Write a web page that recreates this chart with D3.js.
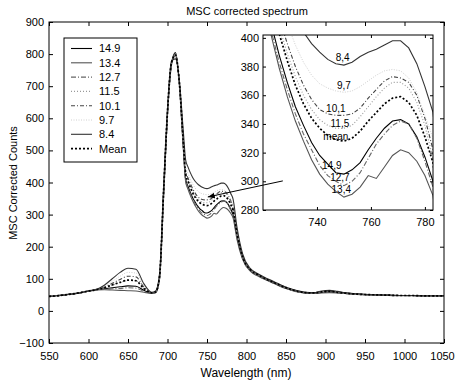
<!DOCTYPE html>
<html lang="en">
<head>
<meta charset="utf-8">
<title>MSC corrected spectrum</title>
<script src="https://cdn.jsdelivr.net/npm/d3@7"></script>
<style>
body { margin: 0; background: #fff; }
svg { display: block; font-family: "Liberation Sans", Arial, sans-serif; }
.axis text { font-size: 11px; fill: #000; }
.axis line { stroke: #000; }
</style>
</head>
<body>
<script>
var w = 455;
var h = 384;

// wavelength grid (nm), finer inside the inset window
var wavelength = [550,560,570,580,590,600,610,620,630,640,650,660,670,680,685,690,695,700,705,710,715,
                  720,723,726,729,732,735,738,741,744,747,750,753,756,759,762,765,768,771,774,777,780,783,
                  788,795,805,815,825,835,845,855,865,875,885,895,905,915,925,935,950,965,980,995,1010,1025,1040,1050];

var s149 = [46,48,50,53,57,62,66, 69,72,75,78,77,64,55, 58,105,360,615,770,805,712, 515,
            410,388,369,352,339,327,318,312,306,305,308,313,322,330,337,342,343,340,331,317,300,
            232,166,126,111,98,87,76,67,60,56,55,58,60,58,55,53,51,50,49,48,48,47,47,47];
var s134 = [45,47,50,53,56,61,65, 66,65,64,63,62,58,55, 57,100,350,610,765,800,705, 505,
            402,379,359,342,328,315,305,298,293,289,291,296,304,302,310,318,322,320,314,304,290,
            222,161,123,108,96,85,74,66,59,55,54,56,57,56,54,52,50,49,48,47,47,46,46,46];
var s127 = [45,48,50,53,57,61,66, 68,69,70,72,71,61,55, 57,102,355,612,768,803,708, 510,
            405,383,364,347,333,322,311,304,300,297,300,306,316,326,333,339,342,340,330,314,296,
            228,164,125,110,97,86,75,66,60,56,55,57,58,57,54,52,50,49,48,48,47,47,46,47];
var s115 = [46,48,50,54,57,62,67, 72,80,88,95,94,70,56, 59,110,370,620,772,798,710, 528,
            430,408,389,373,360,350,343,339,337,337,339,345,352,359,365,369,369,365,355,339,316,
            240,170,128,112,99,88,77,68,61,57,56,59,61,58,55,53,51,50,49,48,48,47,47,47];
var s101 = [45,47,50,53,57,62,67, 74,86,98,108,106,75,57, 60,112,375,625,775,795,712, 532,
            436,414,396,380,367,357,350,347,346,346,347,351,358,364,370,373,372,369,360,344,322,
            245,172,129,113,100,89,78,69,62,57,56,60,62,59,56,53,51,50,49,48,48,47,47,47];
var s97  = [46,48,51,54,58,62,67, 76,92,108,120,118,80,57, 60,115,380,628,776,790,714, 540,
            448,428,410,395,383,374,368,365,363,362,363,366,370,374,377,378,377,372,362,346,330,
            250,174,130,114,101,90,78,69,62,58,57,61,63,60,56,54,51,50,49,48,48,47,47,48];
var s84  = [45,47,50,53,57,62,67, 80,100,120,133,130,85,58, 62,118,385,632,778,785,718, 560,
            470,448,430,415,404,396,390,385,382,381,383,387,390,392,395,398,398,393,382,366,348,
            260,178,132,115,102,91,79,70,63,58,57,62,64,61,57,54,52,50,49,48,48,47,47,48];
var sMean = [45,47,50,53,57,62,66, 72,81,89,96,94,70,56, 59,109,368,620,772,797,711, 527,
             426,403,384,367,354,344,337,332,329,328,330,335,342,348,354,358,359,355,346,331,313,
             240,169,128,112,99,88,77,68,61,57,56,59,61,58,55,53,51,50,49,48,48,47,47,47];

var legendNames = ["14.9","13.4","12.7","11.5","10.1","9.7","8.4","Mean"];
var insetNames  = ["14,9","13,4","12,7","11,5","10,1","9,7","8,4","mean"];
var allSeries   = [s149, s134, s127, s115, s101, s97, s84, sMean];

var xTicks = [550,600,650,700,750,800,850,900,950,1000,1050];
var yTicks = [-100,0,100,200,300,400,500,600,700,800,900];
var insetXTicks = [740,760,780];
var insetYTicks = [280,300,320,340,360,380,400];

// label anchors inside the inset, in data units
var insetLabelWl  = [745.5, 749, 748.5, 748.5, 747, 750, 749.5, 747];
var insetLabelVal = [311, 294.5, 302.5, 340.5, 351, 367, 386, 331];

// line styles per series
var styles = [
  {stroke:"#000", dash:null,      width:1.1},
  {stroke:"#555", dash:null,      width:1.1},
  {stroke:"#666", dash:"5,2,1,2", width:1.1},
  {stroke:"#999", dash:"1,2",     width:1.1},
  {stroke:"#444", dash:"4,2,1,2", width:1.1},
  {stroke:"#d0d0d0", dash:"1,1.5", width:1},
  {stroke:"#333", dash:null,      width:1.1},
  {stroke:"#000", dash:"2,2",     width:1.7}
];

var svg = d3.select("body").append("svg")
            .attr("width", w)
            .attr("height", h);

// main axes
var x = d3.scaleLinear().domain([550,1050]).range([49,444]);
var y = d3.scaleLinear().domain([-100,900]).range([343,22]);

svg.append("clipPath").attr("id","mainclip")
   .append("rect").attr("x",49).attr("y",22).attr("width",395).attr("height",321);

var line = d3.line()
             .x(function(d){ return x(d[0]); })
             .y(function(d){ return y(d[1]); })
             .curve(d3.curveMonotoneX);

var mainG = svg.append("g").attr("clip-path","url(#mainclip)");
allSeries.forEach(function(s, i) {
  var pts = wavelength.map(function(wl, j){ return [wl, s[j]]; });
  mainG.append("path")
       .attr("d", line(pts))
       .attr("fill","none")
       .attr("stroke", styles[i].stroke)
       .attr("stroke-width", styles[i].width)
       .attr("stroke-dasharray", styles[i].dash);
});

svg.append("g").attr("class","axis")
   .attr("transform","translate(0,343)")
   .call(d3.axisBottom(x).tickValues(xTicks).tickSize(-4).tickPadding(9).tickFormat(d3.format("d")))
   .call(function(g){
     g.select(".domain").remove();
     g.selectAll("text").filter(function(d){ return d === 1050; }).attr("dx", -2);
   });
svg.append("g").attr("class","axis")
   .attr("transform","translate(0,22)")
   .call(d3.axisTop(x).tickValues(xTicks).tickSize(-4).tickFormat(""))
   .call(function(g){ g.select(".domain").remove(); });
svg.append("g").attr("class","axis")
   .attr("transform","translate(49,0)")
   .call(d3.axisLeft(y).tickValues(yTicks).tickSize(-4).tickPadding(5).tickFormat(d3.format("d")))
   .call(function(g){ g.select(".domain").remove(); });
svg.append("g").attr("class","axis")
   .attr("transform","translate(444,0)")
   .call(d3.axisRight(y).tickValues(yTicks).tickSize(-4).tickFormat(""))
   .call(function(g){ g.select(".domain").remove(); });

svg.append("rect")
   .attr("x",49).attr("y",22).attr("width",395).attr("height",321)
   .attr("fill","none").attr("stroke","#000").attr("stroke-width",1);

// titles
svg.append("text").attr("x",247).attr("y",15).attr("text-anchor","middle")
   .attr("font-size",11).text("MSC corrected spectrum");
svg.append("text").attr("x",246).attr("y",377).attr("text-anchor","middle")
   .attr("font-size",12).text("Wavelength (nm)");
svg.append("text").attr("transform","translate(17,183) rotate(-90)").attr("text-anchor","middle")
   .attr("font-size",11).text("MSC Corrected Counts");

// legend
var legend = svg.append("g");
legend.append("rect").attr("x",64).attr("y",38).attr("width",73).attr("height",124)
      .attr("fill","#fff").attr("stroke","#000");
legendNames.forEach(function(name, i) {
  var ly = 48.5 + i * 14.3;
  legend.append("line").attr("x1",71).attr("x2",92).attr("y1",ly).attr("y2",ly)
        .attr("stroke", styles[i].stroke)
        .attr("stroke-width", styles[i].width)
        .attr("stroke-dasharray", styles[i].dash);
  legend.append("text").attr("x",99).attr("y",ly).attr("dy","0.36em")
        .attr("font-size",11).text(name);
});

// inset
var ix = d3.scaleLinear().domain([720,783]).range([263,433]);
var iy = d3.scaleLinear().domain([280,402]).range([210,35]);

svg.append("rect").attr("x",263).attr("y",35).attr("width",170).attr("height",175)
   .attr("fill","#fff");
svg.append("clipPath").attr("id","insetclip")
   .append("rect").attr("x",263).attr("y",35).attr("width",170).attr("height",175);

var iline = d3.line()
              .x(function(d){ return ix(d[0]); })
              .y(function(d){ return iy(d[1]); });

var insetG = svg.append("g").attr("clip-path","url(#insetclip)");
allSeries.forEach(function(s, i) {
  var pts = wavelength.map(function(wl, j){ return [wl, s[j]]; })
                      .filter(function(p){ return p[0] >= 715 && p[0] <= 788; });
  insetG.append("path")
        .attr("d", iline(pts))
        .attr("fill","none")
        .attr("stroke", styles[i].stroke)
        .attr("stroke-width", styles[i].width)
        .attr("stroke-dasharray", styles[i].dash);
});

insetNames.forEach(function(name, i) {
  svg.append("text")
     .attr("x", ix(insetLabelWl[i]))
     .attr("y", iy(insetLabelVal[i]))
     .attr("dy","0.35em")
     .attr("text-anchor","middle")
     .attr("font-size",10)
     .text(name);
});

svg.append("g").attr("class","axis")
   .attr("transform","translate(0,210)")
   .call(d3.axisBottom(ix).tickValues(insetXTicks).tickSize(-3).tickPadding(8))
   .call(function(g){ g.select(".domain").remove(); });
svg.append("g").attr("class","axis")
   .attr("transform","translate(0,35)")
   .call(d3.axisTop(ix).tickValues(insetXTicks).tickSize(-3).tickFormat(""))
   .call(function(g){ g.select(".domain").remove(); });
svg.append("g").attr("class","axis")
   .attr("transform","translate(263,0)")
   .call(d3.axisLeft(iy).tickValues(insetYTicks).tickSize(-3).tickPadding(4))
   .call(function(g){ g.select(".domain").remove(); });
svg.append("g").attr("class","axis")
   .attr("transform","translate(433,0)")
   .call(d3.axisRight(iy).tickValues(insetYTicks).tickSize(-3).tickFormat(""))
   .call(function(g){ g.select(".domain").remove(); });

svg.append("rect").attr("x",263).attr("y",35).attr("width",170).attr("height",175)
   .attr("fill","none").attr("stroke","#000");

// arrow pointing from the inset to the bump in the main plot
var arrowFrom = [846, 405];
var arrowTo = [751, 355];
svg.append("defs").append("marker")
   .attr("id","head").attr("viewBox","0 0 10 10")
   .attr("refX",10).attr("refY",5)
   .attr("markerWidth",7).attr("markerHeight",7)
   .attr("orient","auto")
   .append("path").attr("d","M0,1 L10,5 L0,9 Z").attr("fill","#000");
svg.append("line")
   .attr("x1", x(arrowFrom[0])).attr("y1", y(arrowFrom[1]))
   .attr("x2", x(arrowTo[0])).attr("y2", y(arrowTo[1]))
   .attr("stroke","#000").attr("stroke-width",1)
   .attr("marker-end","url(#head)");
</script>
</body>
</html>
